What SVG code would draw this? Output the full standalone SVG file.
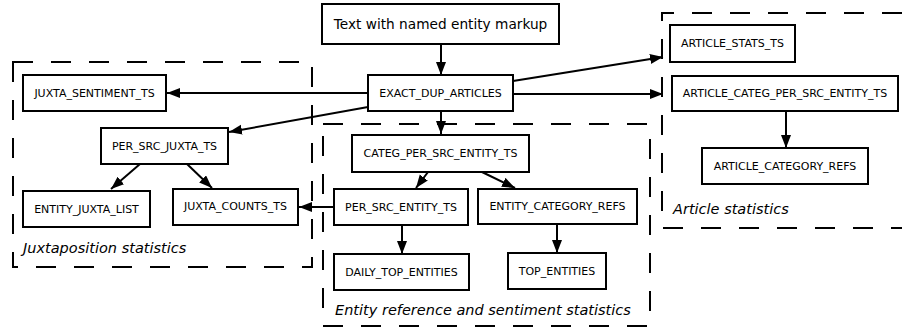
<svg xmlns="http://www.w3.org/2000/svg" width="902" height="331" viewBox="0 0 902 331">
<defs>
<marker id="ah" markerUnits="userSpaceOnUse" markerWidth="14" markerHeight="12" refX="13" refY="5" orient="auto">
<path d="M0,0 L13,5 L0,10 z" fill="#000"/>
</marker>
<style>
.box{fill:#fff;stroke:#000;stroke-width:2}
.lbl{font-family:"DejaVu Sans",sans-serif;font-size:11px;fill:#000;text-anchor:middle}
.grp{fill:none;stroke:#000;stroke-width:2;stroke-dasharray:20 18}
.glbl{font-family:"DejaVu Sans",sans-serif;font-size:14.5px;font-style:italic;fill:#000}
.con line{stroke:#000;stroke-width:2;marker-end:url(#ah)}
</style>
</defs>
<rect width="902" height="331" fill="#fff"/>
<g id="group-juxta">
<rect class="grp" x="13" y="62" width="299" height="205"/>
<text class="glbl" x="23" y="253">Juxtaposition statistics</text>
</g>
<g id="group-entity">
<rect class="grp" x="323" y="124" width="327" height="202"/>
<text class="glbl" x="335" y="315">Entity reference and sentiment statistics</text>
</g>
<g id="group-article">
<path class="grp" d="M902,13 H662 V228 H902"/>
<text class="glbl" x="673" y="214">Article statistics</text>
</g>
<g id="connectors" class="con">
<line x1="441" y1="44" x2="441" y2="75"/>
<line x1="368" y1="93" x2="167" y2="93"/>
<line x1="368" y1="107" x2="229" y2="132"/>
<line x1="513" y1="81" x2="663" y2="57"/>
<line x1="513" y1="94" x2="663" y2="94"/>
<line x1="441" y1="111" x2="441" y2="134"/>
<line x1="786" y1="111" x2="786" y2="148"/>
<line x1="140" y1="164" x2="111" y2="189"/>
<line x1="187" y1="164" x2="212" y2="188"/>
<line x1="428" y1="172" x2="416" y2="188"/>
<line x1="482" y1="172" x2="515" y2="188"/>
<line x1="334" y1="207" x2="299" y2="207"/>
<line x1="402" y1="225" x2="402" y2="254"/>
<line x1="557" y1="224" x2="557" y2="253"/>
</g>
<g id="n-text">
<rect class="box" x="322" y="4" width="237" height="40"/>
<text class="lbl" x="440.5" y="29" style="font-size:13.7px">Text with named entity markup</text>
</g>
<g id="n-exact">
<rect class="box" x="368" y="75" width="145" height="36"/>
<text class="lbl" x="440.5" y="97">EXACT_DUP_ARTICLES</text>
</g>
<g id="n-juxta-sent">
<rect class="box" x="23" y="75" width="143" height="36"/>
<text class="lbl" x="94.5" y="97">JUXTA_SENTIMENT_TS</text>
</g>
<g id="n-per-src-juxta">
<rect class="box" x="101" y="128" width="127" height="36"/>
<text class="lbl" x="164.5" y="150">PER_SRC_JUXTA_TS</text>
</g>
<g id="n-entity-juxta-list">
<rect class="box" x="23" y="191" width="127" height="36"/>
<text class="lbl" x="86.5" y="213">ENTITY_JUXTA_LIST</text>
</g>
<g id="n-juxta-counts">
<rect class="box" x="173" y="189" width="125" height="36"/>
<text class="lbl" x="235.5" y="210">JUXTA_COUNTS_TS</text>
</g>
<g id="n-categ">
<rect class="box" x="352" y="135" width="177" height="37"/>
<text class="lbl" x="440.5" y="157">CATEG_PER_SRC_ENTITY_TS</text>
</g>
<g id="n-per-src-entity">
<rect class="box" x="334" y="189" width="134" height="36"/>
<text class="lbl" x="401" y="211">PER_SRC_ENTITY_TS</text>
</g>
<g id="n-entity-cat-refs">
<rect class="box" x="478" y="189" width="159" height="35"/>
<text class="lbl" x="557.5" y="210">ENTITY_CATEGORY_REFS</text>
</g>
<g id="n-daily-top">
<rect class="box" x="334" y="254" width="135" height="36"/>
<text class="lbl" x="401.5" y="276">DAILY_TOP_ENTITIES</text>
</g>
<g id="n-top-entities">
<rect class="box" x="508" y="253" width="98" height="36"/>
<text class="lbl" x="557" y="275">TOP_ENTITIES</text>
</g>
<g id="n-article-stats">
<rect class="box" x="670" y="25" width="125" height="37"/>
<text class="lbl" x="732.5" y="47">ARTICLE_STATS_TS</text>
</g>
<g id="n-article-categ">
<rect class="box" x="672" y="76" width="226" height="35"/>
<text class="lbl" x="785" y="97">ARTICLE_CATEG_PER_SRC_ENTITY_TS</text>
</g>
<g id="n-article-cat-refs">
<rect class="box" x="702" y="148" width="166" height="36"/>
<text class="lbl" x="785" y="170">ARTICLE_CATEGORY_REFS</text>
</g>
</svg>
